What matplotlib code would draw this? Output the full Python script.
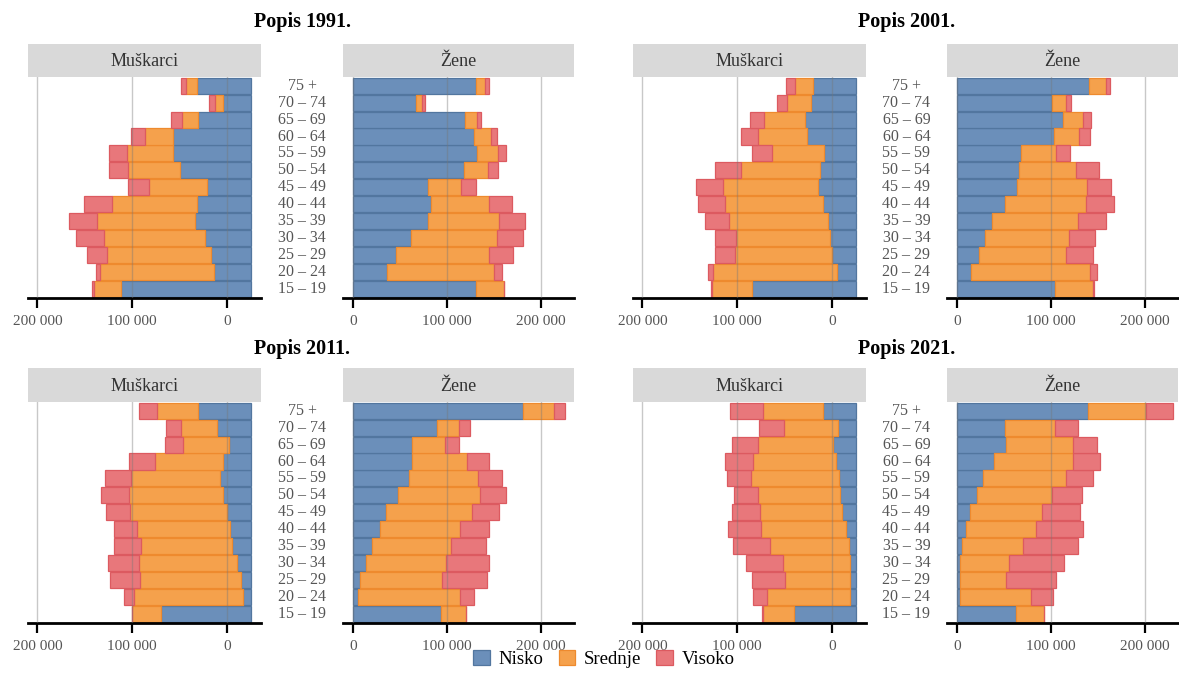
import matplotlib.pyplot as plt
import matplotlib.transforms as mtransforms
from matplotlib.patches import Patch

plt.rcParams['font.family'] = ['Liberation Serif', 'DejaVu Serif']

# age groups, bottom to top
ages = ['15 – 19', '20 – 24', '25 – 29', '30 – 34', '35 – 39', '40 – 44', '45 – 49',
        '50 – 54', '55 – 59', '60 – 64', '65 – 69', '70 – 74', '75 +']
levels = ['Nisko', 'Srednje', 'Visoko']
years = ['1991', '2001', '2011', '2021']

# values in thousands of persons, order follows ages
m1991_nisko = [137, 38.5, 42, 48, 58.5, 57, 45.5, 74, 82, 82, 55, 29.5, 57]
m1991_srednje = [28.5, 120, 110, 107, 104, 89.5, 61.5, 55.5, 48.5, 29.5, 17, 8.5, 11]
m1991_visoko = [2, 4.5, 20.5, 29.5, 29, 29.5, 22, 20.5, 18.5, 15, 11.5, 5.5, 5]
z1991_nisko = [131, 36, 45.5, 61.5, 79.5, 83, 79.5, 117.5, 131.5, 129, 118.5, 67, 131]
z1991_srednje = [29, 114, 98.5, 91, 76, 61, 35.5, 25.5, 22.5, 18, 13, 6, 9.5]
z1991_visoko = [0.5, 8, 26.5, 28.5, 27.5, 25, 16, 11.5, 9, 6, 4.5, 3.5, 3.5]

m2001_nisko = [109, 20, 25, 27, 29.5, 34.5, 40, 38, 33, 51.5, 53, 47, 44.5]
m2001_srednje = [43, 131, 102.5, 99.5, 104.5, 103.5, 100, 82.5, 55, 51, 43.5, 25, 19]
m2001_visoko = [1, 5, 21, 21.5, 24.5, 28.5, 28.5, 27.5, 21, 19, 15, 11, 10]
z2001_nisko = [104.5, 15, 23, 29.5, 37, 50.5, 63.5, 66, 67.5, 102.5, 112.5, 101, 140]
z2001_srednje = [40.5, 126.5, 92.5, 89.5, 92, 87, 74.5, 60, 37.5, 27, 21.5, 14.5, 18]
z2001_visoko = [0.5, 7.5, 29, 28, 29.5, 29, 26, 25, 15.5, 11.5, 8.5, 6, 5]

m2011_nisko = [95, 8, 10, 14, 19.5, 22, 25, 29, 32.5, 29, 23, 35, 55]
m2011_srednje = [30, 115.5, 107, 104, 96.5, 97.5, 102, 99.5, 93.5, 72, 48, 38, 43.5]
m2011_visoko = [0, 10.5, 31, 32.5, 28, 24.5, 26, 29.5, 28, 27, 19, 16.5, 19.5]
z2011_nisko = [93.5, 5.5, 7.5, 13, 20, 28, 35, 47.5, 59, 63, 63, 89.5, 180.5]
z2011_srednje = [26, 108.5, 87, 86, 83.5, 86, 91, 87, 73.5, 58.5, 35, 23.5, 33]
z2011_visoko = [0.5, 15, 47.5, 46, 37.5, 30, 29.5, 28.5, 26, 23.5, 15, 11, 11.5]

m2021_nisko = [65.5, 5.5, 5.5, 5.5, 7, 10, 14, 16.5, 17.5, 20.5, 23.5, 19, 34.5]
m2021_srednje = [32, 88.5, 69, 71.5, 83.5, 89.5, 87, 87, 92.5, 88, 80, 56.5, 63]
m2021_visoko = [1, 14, 35, 38.5, 38.5, 35.5, 30, 25, 25.5, 29, 27, 26.5, 35]
z2021_nisko = [63, 3, 3, 3, 4.5, 9, 14, 20.5, 27, 39, 51.5, 50.5, 139]
z2021_srednje = [29, 75, 48.5, 52, 65.5, 74.5, 76.5, 80.5, 88.5, 84, 71.5, 53, 62]
z2021_visoko = [0, 24, 53.5, 58.5, 58, 50.5, 40, 31.5, 29.5, 29, 26, 25, 29]

data = {
    '1991': ([m1991_nisko, m1991_srednje, m1991_visoko], [z1991_nisko, z1991_srednje, z1991_visoko]),
    '2001': ([m2001_nisko, m2001_srednje, m2001_visoko], [z2001_nisko, z2001_srednje, z2001_visoko]),
    '2011': ([m2011_nisko, m2011_srednje, m2011_visoko], [z2011_nisko, z2011_srednje, z2011_visoko]),
    '2021': ([m2021_nisko, m2021_srednje, m2021_visoko], [z2021_nisko, z2021_srednje, z2021_visoko]),
}

face = ['#6b8fba', '#f5a14c', '#e8777b']
edge = ['#52769f', '#ee8a2e', '#dc5a60']
text_gray = '#555555'

W, H = 1179, 675
fig = plt.figure(figsize=(W / 100, H / 100), dpi=100)

# pixel layout: (men x0, men x1, women x0, women x1), (header top, plot top, plot bottom)
cols = [(28, 261, 343, 574), (633, 866, 947, 1178)]
rows = [(44, 77, 298), (368, 402, 623)]
title_y = [22, 349]

XMAX = 235000
XMIN = -11000
MEN_SHIFT = 25000  # the men's tick labels sit 25 000 off the bar origin in the original


def add_axes_px(x0, x1, y0, y1):
    return fig.add_axes([x0 / W, 1 - y1 / H, (x1 - x0) / W, (y1 - y0) / H])


def draw_side(ax, values, men):
    left = [0.0] * len(ages)
    for k in range(3):
        vals = [v * 1000 for v in values[k]]
        ax.barh(range(len(ages)), vals, left=left, height=0.95, color=face[k],
                edgecolor=edge[k], linewidth=0.9, zorder=1)
        left = [a + b for a, b in zip(left, vals)]
    ax.set_ylim(-0.55, len(ages) - 0.48)
    ax.set_yticks([])
    if men:
        ax.set_xlim(XMAX, XMIN)
        ax.set_xticks([MEN_SHIFT + t for t in (200000, 100000, 0)])
        ax.set_xticklabels(['200 000', '100 000', '0'])
    else:
        ax.set_xlim(XMIN, XMAX)
        ax.set_xticks([0, 100000, 200000])
        ax.set_xticklabels(['0', '100 000', '200 000'])
    for s in ['left', 'right', 'top']:
        ax.spines[s].set_visible(False)
    ax.spines['bottom'].set_linewidth(2)
    ax.spines['bottom'].set_color('black')
    ax.tick_params(axis='x', length=7, width=1.6, color='black', labelcolor=text_gray,
                   labelsize=11, pad=5)
    ax.set_axisbelow(False)
    ax.grid(axis='x', color='#777777', alpha=0.4, linewidth=1)


def header(x0, x1, y0, y1, label):
    hx = add_axes_px(x0, x1, y0, y1)
    hx.set_facecolor('#d9d9d9')
    hx.set_xticks([])
    hx.set_yticks([])
    for s in hx.spines.values():
        s.set_visible(False)
    hx.text(0.5, 0.47, label, ha='center', va='center', fontsize=13, color='#333333',
            transform=hx.transAxes)


for i, year in enumerate(years):
    r, c = divmod(i, 2)
    mx0, mx1, zx0, zx1 = cols[c]
    hy, py0, py1 = rows[r]
    men_vals, women_vals = data[year]

    ax_m = add_axes_px(mx0, mx1, py0, py1)
    draw_side(ax_m, men_vals, True)
    ax_z = add_axes_px(zx0, zx1, py0, py1)
    draw_side(ax_z, women_vals, False)

    header(mx0, mx1, hy, py0, 'Muškarci')
    header(zx0, zx1, hy, py0, 'Žene')

    mid = (mx1 + zx0) / 2
    trans = mtransforms.blended_transform_factory(fig.transFigure, ax_m.transData)
    for j, lab in enumerate(ages):
        ax_m.text(mid / W, j, lab, transform=trans, ha='center', va='center',
                  fontsize=11.5, color=text_gray, clip_on=False)

    fig.text(mid / W, 1 - title_y[r] / H, f'Popis {year}.', ha='center', va='center',
             fontsize=14.5, fontweight='bold', color='black')

handles = [Patch(facecolor=face[k], edgecolor=edge[k], linewidth=0.9) for k in range(3)]
fig.legend(handles, levels, loc='center', bbox_to_anchor=(604 / W, 1 - 659 / H), ncol=3,
           frameon=False, fontsize=13.5, handlelength=0.9, handleheight=0.9,
           handletextpad=0.45, columnspacing=0.8, borderpad=0.1)

fig.savefig('out.png', dpi=100)
